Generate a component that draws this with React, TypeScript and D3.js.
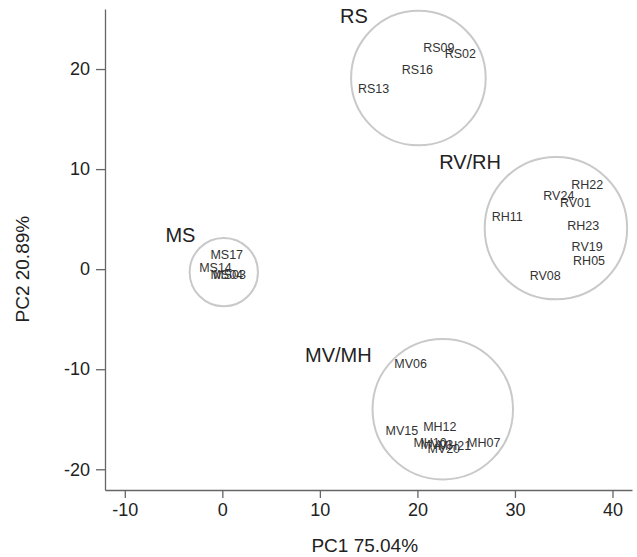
import React, { useRef, useEffect } from "react";
import * as d3 from "d3";

// sample scores (PC1, PC2)
const sampleNames = [
  "RS09", "RS02", "RS16", "RS13",
  "RH22", "RV24", "RV01", "RH11", "RH23", "RV19", "RH05", "RV08",
  "MS17", "MS14", "MS04", "MS03",
  "MV06", "MH12", "MV15", "MH10", "MV03", "MV20", "MH21", "MH07",
];
const pc1 = [
  22.2, 24.4, 20.0, 15.5,
  37.4, 34.5, 36.2, 29.2, 37.0, 37.4, 37.6, 33.1,
  0.45, -0.7, 0.45, 0.75,
  19.3, 22.3, 18.4, 21.3, 22.0, 22.7, 23.8, 26.8,
];
const pc2 = [
  22.1, 21.5, 19.9, 18.0,
  8.4, 7.3, 6.6, 5.2, 4.3, 2.2, 0.8, -0.7,
  1.4, 0.1, -0.55, -0.55,
  -9.5, -15.8, -16.2, -17.4, -17.6, -18.0, -17.7, -17.4,
];

// group circles
const groupNames = ["RS", "RV/RH", "MS", "MV/MH"];
const groupCx = [20.1, 34.2, 0.15, 22.6];
const groupCy = [19.1, 4.1, -0.3, -14.0];
const groupR = [6.9, 7.3, 3.5, 7.2]; // radius in PC1 units
const groupLabelX = [13.5, 25.4, -4.3, 11.9];
const groupLabelY = [25.3, 10.7, 3.4, -8.6];

const xTicks = [-10, 0, 10, 20, 30, 40];
const yTicks = [-20, -10, 0, 10, 20];

const App: React.FC = () => {
  const svgRef = useRef<SVGSVGElement>(null);
  const width = 637;
  const height = 557;

  useEffect(() => {
    if (!svgRef.current) return;
    const svg = d3.select(svgRef.current);
    svg.selectAll("*").remove();

    const margin = { top: 9, right: 5, bottom: 67, left: 105 };
    const font = "Arial, 'Liberation Sans', sans-serif";

    const x = d3
      .scaleLinear()
      .domain([-12.03, 42])
      .range([margin.left, width - margin.right]);
    const y = d3
      .scaleLinear()
      .domain([-22.07, 26])
      .range([height - margin.bottom, margin.top]);

    // circles around groups
    svg
      .selectAll(".group")
      .data(groupNames)
      .enter()
      .append("circle")
      .attr("cx", (_, i) => x(groupCx[i]))
      .attr("cy", (_, i) => y(groupCy[i]))
      .attr("r", (_, i) => x(groupR[i]) - x(0))
      .attr("fill", "none")
      .attr("stroke", "#c9c9c9")
      .attr("stroke-width", 2);

    // group labels
    svg
      .selectAll(".group-label")
      .data(groupNames)
      .enter()
      .append("text")
      .attr("x", (_, i) => x(groupLabelX[i]))
      .attr("y", (_, i) => y(groupLabelY[i]))
      .attr("text-anchor", "middle")
      .attr("dominant-baseline", "central")
      .style("font-family", font)
      .style("font-size", "20px")
      .attr("fill", "#222")
      .text((d) => d);

    // sample labels
    svg
      .selectAll(".sample")
      .data(sampleNames)
      .enter()
      .append("text")
      .attr("x", (_, i) => x(pc1[i]))
      .attr("y", (_, i) => y(pc2[i]))
      .attr("text-anchor", "middle")
      .attr("dominant-baseline", "central")
      .style("font-family", font)
      .style("font-size", "12.5px")
      .attr("fill", "#333")
      .text((d) => d);

    // axes
    const xAxis = svg
      .append("g")
      .attr("transform", `translate(0,${height - margin.bottom})`)
      .call(
        d3.axisBottom(x).tickValues(xTicks).tickFormat((d) => String(d))
          .tickSize(8).tickSizeOuter(0).tickPadding(5)
      );
    const yAxis = svg
      .append("g")
      .attr("transform", `translate(${margin.left},0)`)
      .call(
        d3.axisLeft(y).tickValues(yTicks).tickFormat((d) => String(d))
          .tickSize(9).tickSizeOuter(0).tickPadding(6)
      );

    [xAxis, yAxis].forEach((g) => {
      g.selectAll("path, line").attr("stroke", "#666").attr("stroke-width", 1.3);
      g.selectAll("text")
        .style("font-family", font)
        .style("font-size", "18px")
        .attr("fill", "#222");
    });

    svg
      .append("text")
      .attr("x", x(14.6))
      .attr("y", 545)
      .attr("text-anchor", "middle")
      .attr("dominant-baseline", "central")
      .style("font-family", font)
      .style("font-size", "19px")
      .attr("fill", "#222")
      .text("PC1 75.04%");

    svg
      .append("text")
      .attr("transform", `translate(22,${y(0)}) rotate(-90)`)
      .attr("text-anchor", "middle")
      .attr("dominant-baseline", "central")
      .style("font-family", font)
      .style("font-size", "19px")
      .attr("fill", "#222")
      .text("PC2 20.89%");
  }, []);

  return (
    <svg
      ref={svgRef}
      width={width}
      height={height}
      style={{ position: "absolute", left: 0, top: 0, background: "#fff" }}
    ></svg>
  );
};

export default App;
